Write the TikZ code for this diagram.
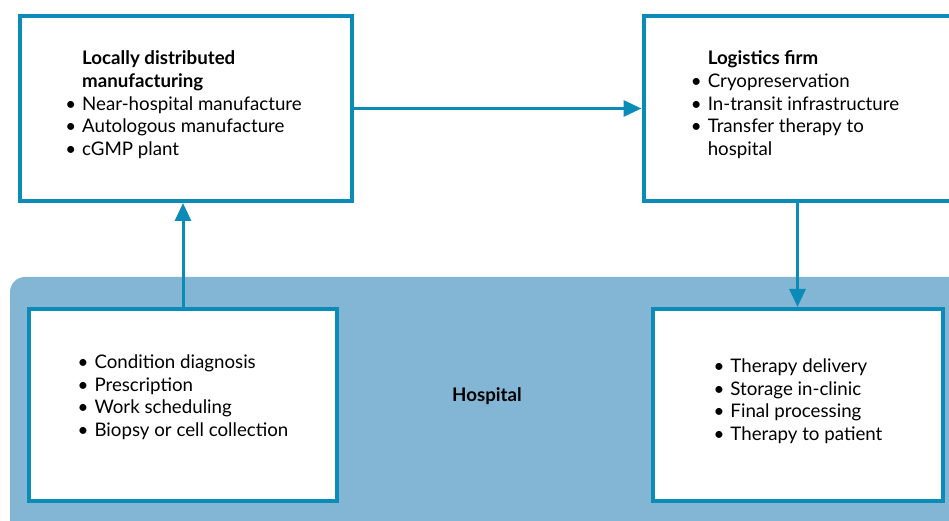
\documentclass[tikz,border=0pt]{standalone}
\usepackage{fontspec}
\setmainfont{Lato}
\usetikzlibrary{arrows.meta}
\definecolor{frameblue}{HTML}{0A8BB8}
\definecolor{hospblue}{HTML}{82B6D4}
\newcommand{\bul}{\textbullet}
\begin{document}
\begin{tikzpicture}[x=1pt, y=1pt,
    stage/.style ={draw=frameblue, fill=white, line width=4pt, inner sep=0pt,
      font=\fontsize{18.7}{22.7}\selectfont},
    flow/.style ={draw=frameblue, line width=3pt, -{Triangle[length=18pt,width=16pt]}}]
   \useasboundingbox (0,0) rectangle (949,521);
   % hospital area
   \fill[hospblue, rounded corners=15pt] (10,-20) rectangle (980,244);
   \node[font=\fontsize{18.7}{22}\selectfont\bfseries] (hosp) at (487,125) {Hospital};

   \node[stage, minimum width=332pt, minimum height=185pt] (mfg) at (186,412.5)
     {\begin{tabular}{@{}l@{\hspace{6pt}}l@{\hspace{5pt}}}
       & \textbf{Locally distributed}\\
       & \textbf{manufacturing}\\
       \bul & Near-hospital manufacture\\
       \bul & Autologous manufacture\\
       \bul & cGMP plant\\[6pt]
      \end{tabular}};
   \node[stage, minimum width=308pt, minimum height=185pt] (log) at (797.5,412.5)
     {\begin{tabular}{@{}l@{\hspace{6pt}}l@{\hspace{5pt}}}
       & \textbf{Logistics firm}\\
       \bul & Cryopreservation\\
       \bul & In-transit infrastructure\\
       \bul & Transfer therapy to\\
       & hospital\\[6pt]
      \end{tabular}};
   \node[stage, minimum width=308pt, minimum height=192pt] (lab) at (183,116)
     {\begin{tabular}{@{}l@{\hspace{6pt}}l@{}}
       \bul & Condition diagnosis\\
       \bul & Prescription\\
       \bul & Work scheduling\\
       \bul & Biopsy or cell collection\\[14pt]
      \end{tabular}};
   \node[stage, minimum width=290pt, minimum height=192pt] (clinic) at (798,116)
     {\begin{tabular}{@{}l@{\hspace{6pt}}l@{}}
       \bul & Therapy delivery\\
       \bul & Storage in-clinic\\
       \bul & Final processing\\
       \bul & Therapy to patient\\[6pt]
      \end{tabular}};

   \draw[flow] (mfg.east) to (mfg.east -| log.west);
   \draw[flow] (lab.north) to (lab.north |- mfg.south);
   \draw[flow] (log.south) to (log.south |- clinic.north);

\end{tikzpicture}
\end{document}
